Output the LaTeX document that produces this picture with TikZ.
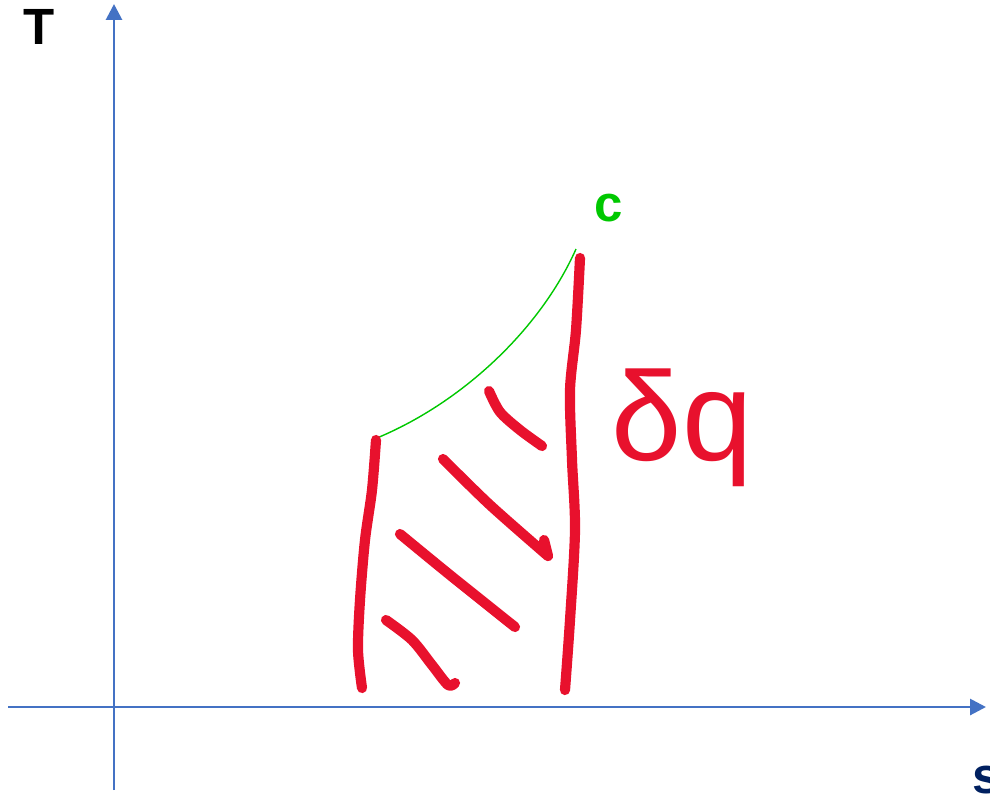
\documentclass[tikz,border=0pt]{standalone}
\usepackage{fontspec}
\setmainfont{Liberation Sans}
\usetikzlibrary{arrows.meta}
\definecolor{axisblue}{RGB}{68,114,196}
\definecolor{inkred}{RGB}{232,17,45}
\definecolor{curvegreen}{RGB}{0,200,0}
\definecolor{navy}{RGB}{0,32,96}
\begin{document}
\begin{tikzpicture}[x=0.02cm,y=-0.02cm,
  axis/.style={draw=axisblue, line width=1.6pt, -{Triangle[length=9pt,width=9pt]}},
  ink/.style={draw=inkred, line width=5.8pt, line cap=round, line join=round},
  axislabel/.style={font=\bfseries\fontsize{29}{29}\selectfont, inner sep=0pt}]
\useasboundingbox (0,0) rectangle (990,796);
% axes
\coordinate (ybot) at (114,790);
\coordinate (ytop) at (114,4);
\coordinate (xleft) at (8,707);
\coordinate (xright) at (986,707);
\draw[axis] (ybot) -- (ytop);
\draw[axis] (xleft) -- (xright);
\node[axislabel] (T) at (39,27) {T};
\node[axislabel, text=navy] (s) at (987,780) {s};
% process curve
\coordinate (a) at (372,440);
\coordinate (b) at (576,249);
\draw[curvegreen, line width=0.8pt] (a) .. controls (460,405) and (540,330) .. (b);
\node[axislabel, text=curvegreen] (c) at (609,208) {c};
% shaded area
\draw[ink] plot[smooth] coordinates {(376,440) (372,490) (365,540) (360,600) (358,650) (362,688)};
\draw[ink] plot[smooth] coordinates {(580,258) (576,330) (570,390) (572,460) (575,530) (570,620) (565,690)};
\draw[ink] plot[smooth] coordinates {(489,391) (500,412) (520,430) (542,446)};
\draw[ink] plot[smooth] coordinates {(443,459) (490,505) (548,556)} -- (544,540);
\draw[ink] plot[smooth] coordinates {(400,534) (450,575) (515,627)};
\draw[ink] plot[smooth] coordinates {(386,620) (412,640) (432,665) (448,685) (455,683)};
\node[text=inkred, font=\fontsize{72}{72}\selectfont, anchor=base] (dq) at (682,460) {δq};
\end{tikzpicture}
\end{document}
